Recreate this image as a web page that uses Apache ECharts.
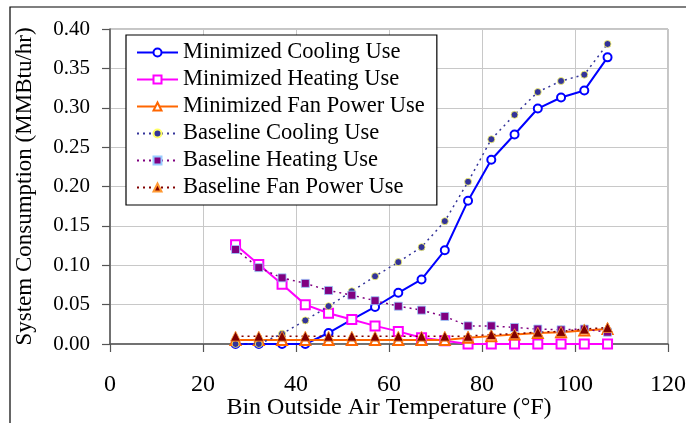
<!DOCTYPE html>
<html>
<head>
<meta charset="utf-8">
<script src="https://cdn.jsdelivr.net/npm/echarts@6/dist/echarts.min.js"></script>
<style>
  html, body { margin: 0; padding: 0; background: #fff; }
  #chart { width: 686px; height: 423px; }
</style>
</head>
<body>
<div id="chart"></div>
<script>
// Bin outside air temperatures (°F)
const temps = [27, 32, 37, 42, 47, 52, 57, 62, 67, 72, 77, 82, 87, 92, 97, 102, 107];

// System consumption per bin (MMBtu/hr)
const minCooling  = [0, 0, 0, 0, 0.014, 0.031, 0.047, 0.065, 0.082, 0.119, 0.182, 0.234, 0.266, 0.299, 0.313, 0.322, 0.364];
const minHeating  = [0.126, 0.101, 0.076, 0.050, 0.039, 0.031, 0.023, 0.016, 0.008, 0.004, 0, 0, 0, 0, 0, 0, 0];
const minFan      = [0.005, 0.005, 0.005, 0.005, 0.005, 0.005, 0.005, 0.005, 0.005, 0.005, 0.008, 0.010, 0.012, 0.014, 0.015, 0.017, 0.019];
const baseCooling = [0, 0, 0.013, 0.030, 0.048, 0.067, 0.086, 0.104, 0.123, 0.156, 0.206, 0.260, 0.291, 0.320, 0.334, 0.342, 0.381];
const baseHeating = [0.120, 0.097, 0.084, 0.077, 0.068, 0.062, 0.055, 0.048, 0.043, 0.035, 0.023, 0.023, 0.021, 0.019, 0.018, 0.019, 0.015];
const baseFan     = [0.010, 0.010, 0.010, 0.010, 0.010, 0.010, 0.010, 0.010, 0.010, 0.010, 0.010, 0.012, 0.013, 0.015, 0.016, 0.019, 0.021];

// Axis settings
const xTicks = { min: 0, max: 120, interval: 20 };
const yTicks = { min: 0, max: 0.40, interval: 0.05 };

const serif = '"Liberation Serif", "Times New Roman", serif';

function pairs(vals) {
  return temps.map((t, i) => [t, vals[i]]);
}

function solidSeries(name, vals, color, symbol, size) {
  return {
    name: name,
    type: 'line',
    data: pairs(vals),
    symbol: symbol,
    symbolSize: size,
    showAllSymbol: true,
    lineStyle: { color: color, width: 2 },
    itemStyle: { color: color, borderColor: color, borderWidth: 1.5 },
    emphasis: { disabled: true },
    z: 3
  };
}

function dottedSeries(name, vals, color, border, symbol, size) {
  return {
    name: name,
    type: 'line',
    data: pairs(vals),
    symbol: symbol,
    symbolSize: size,
    showAllSymbol: true,
    lineStyle: { color: color, width: 1.5, type: [2, 4] },
    itemStyle: { color: color, borderColor: border, borderWidth: 0.8 },
    emphasis: { disabled: true },
    z: 4
  };
}

const chart = echarts.init(document.getElementById('chart'), null, { renderer: 'canvas' });

chart.setOption({
  animation: false,
  backgroundColor: '#fff',
  textStyle: { fontFamily: serif, color: '#000' },
  graphic: [{
    type: 'rect',
    shape: { x: 10, y: 7, width: 700, height: 440 },
    style: { fill: 'none', stroke: '#000', lineWidth: 1.2 },
    silent: true,
    z: 0
  }],
  grid: {
    left: 110, right: 18, top: 29, bottom: 79,
    containLabel: false,
    outerBoundsMode: 'none',
    show: true, borderColor: '#8c8c8c', borderWidth: 1, backgroundColor: 'transparent'
  },
  legend: {
    orient: 'vertical',
    left: 126, top: 35,
    padding: [6, 12, 6, 10],
    itemWidth: 41, itemHeight: 10, itemGap: 4,
    backgroundColor: '#fff',
    borderColor: '#000', borderWidth: 1.2,
    textStyle: { fontFamily: serif, fontSize: 22.5, lineHeight: 22, color: '#000' },
    selectedMode: false,
    data: ['Minimized Cooling Use', 'Minimized Heating Use', 'Minimized Fan Power Use',
           'Baseline Cooling Use', 'Baseline Heating Use', 'Baseline Fan Power Use']
  },
  xAxis: {
    type: 'value',
    min: xTicks.min, max: xTicks.max, interval: xTicks.interval,
    name: 'Bin Outside Air Temperature (°F)',
    nameLocation: 'middle', nameGap: 52,
    nameMoveOverlap: false,
    nameTextStyle: { fontFamily: serif, fontSize: 24, color: '#000' },
    axisLine: { show: true, onZero: false, lineStyle: { color: '#555', width: 1.5 } },
    axisTick: { show: true, inside: false, length: 8, lineStyle: { color: '#555', width: 1.2 } },
    axisLabel: { fontFamily: serif, fontSize: 24, color: '#000', margin: 29 },
    splitLine: { show: true, lineStyle: { color: '#c8c8c8', width: 1 } }
  },
  yAxis: {
    type: 'value',
    min: yTicks.min, max: yTicks.max, interval: yTicks.interval,
    name: 'System Consumption (MMBtu/hr)',
    nameLocation: 'middle', nameGap: 74,
    nameMoveOverlap: false,
    nameTextStyle: { fontFamily: serif, fontSize: 23, color: '#000' },
    axisLine: { show: true, lineStyle: { color: '#555', width: 1.5 } },
    axisTick: { show: true, inside: false, length: 8, lineStyle: { color: '#555', width: 1.2 } },
    axisLabel: {
      fontFamily: serif, fontSize: 21, color: '#000', margin: 20,
      formatter: v => v.toFixed(2)
    },
    splitLine: { show: true, lineStyle: { color: '#c8c8c8', width: 1 } }
  },
  series: [
    solidSeries('Minimized Cooling Use', minCooling, '#0000ff', 'emptyCircle', 8),
    solidSeries('Minimized Heating Use', minHeating, '#ff00ff', 'emptyRect', 9),
    solidSeries('Minimized Fan Power Use', minFan, '#ff6600', 'emptyTriangle', 10),
    dottedSeries('Baseline Cooling Use', baseCooling, '#333399', '#ffff66', 'circle', 7),
    dottedSeries('Baseline Heating Use', baseHeating, '#800080', '#99ccff', 'rect', 8),
    dottedSeries('Baseline Fan Power Use', baseFan, '#800000', '#ff9933', 'triangle', 10)
  ]
});
</script>
</body>
</html>
